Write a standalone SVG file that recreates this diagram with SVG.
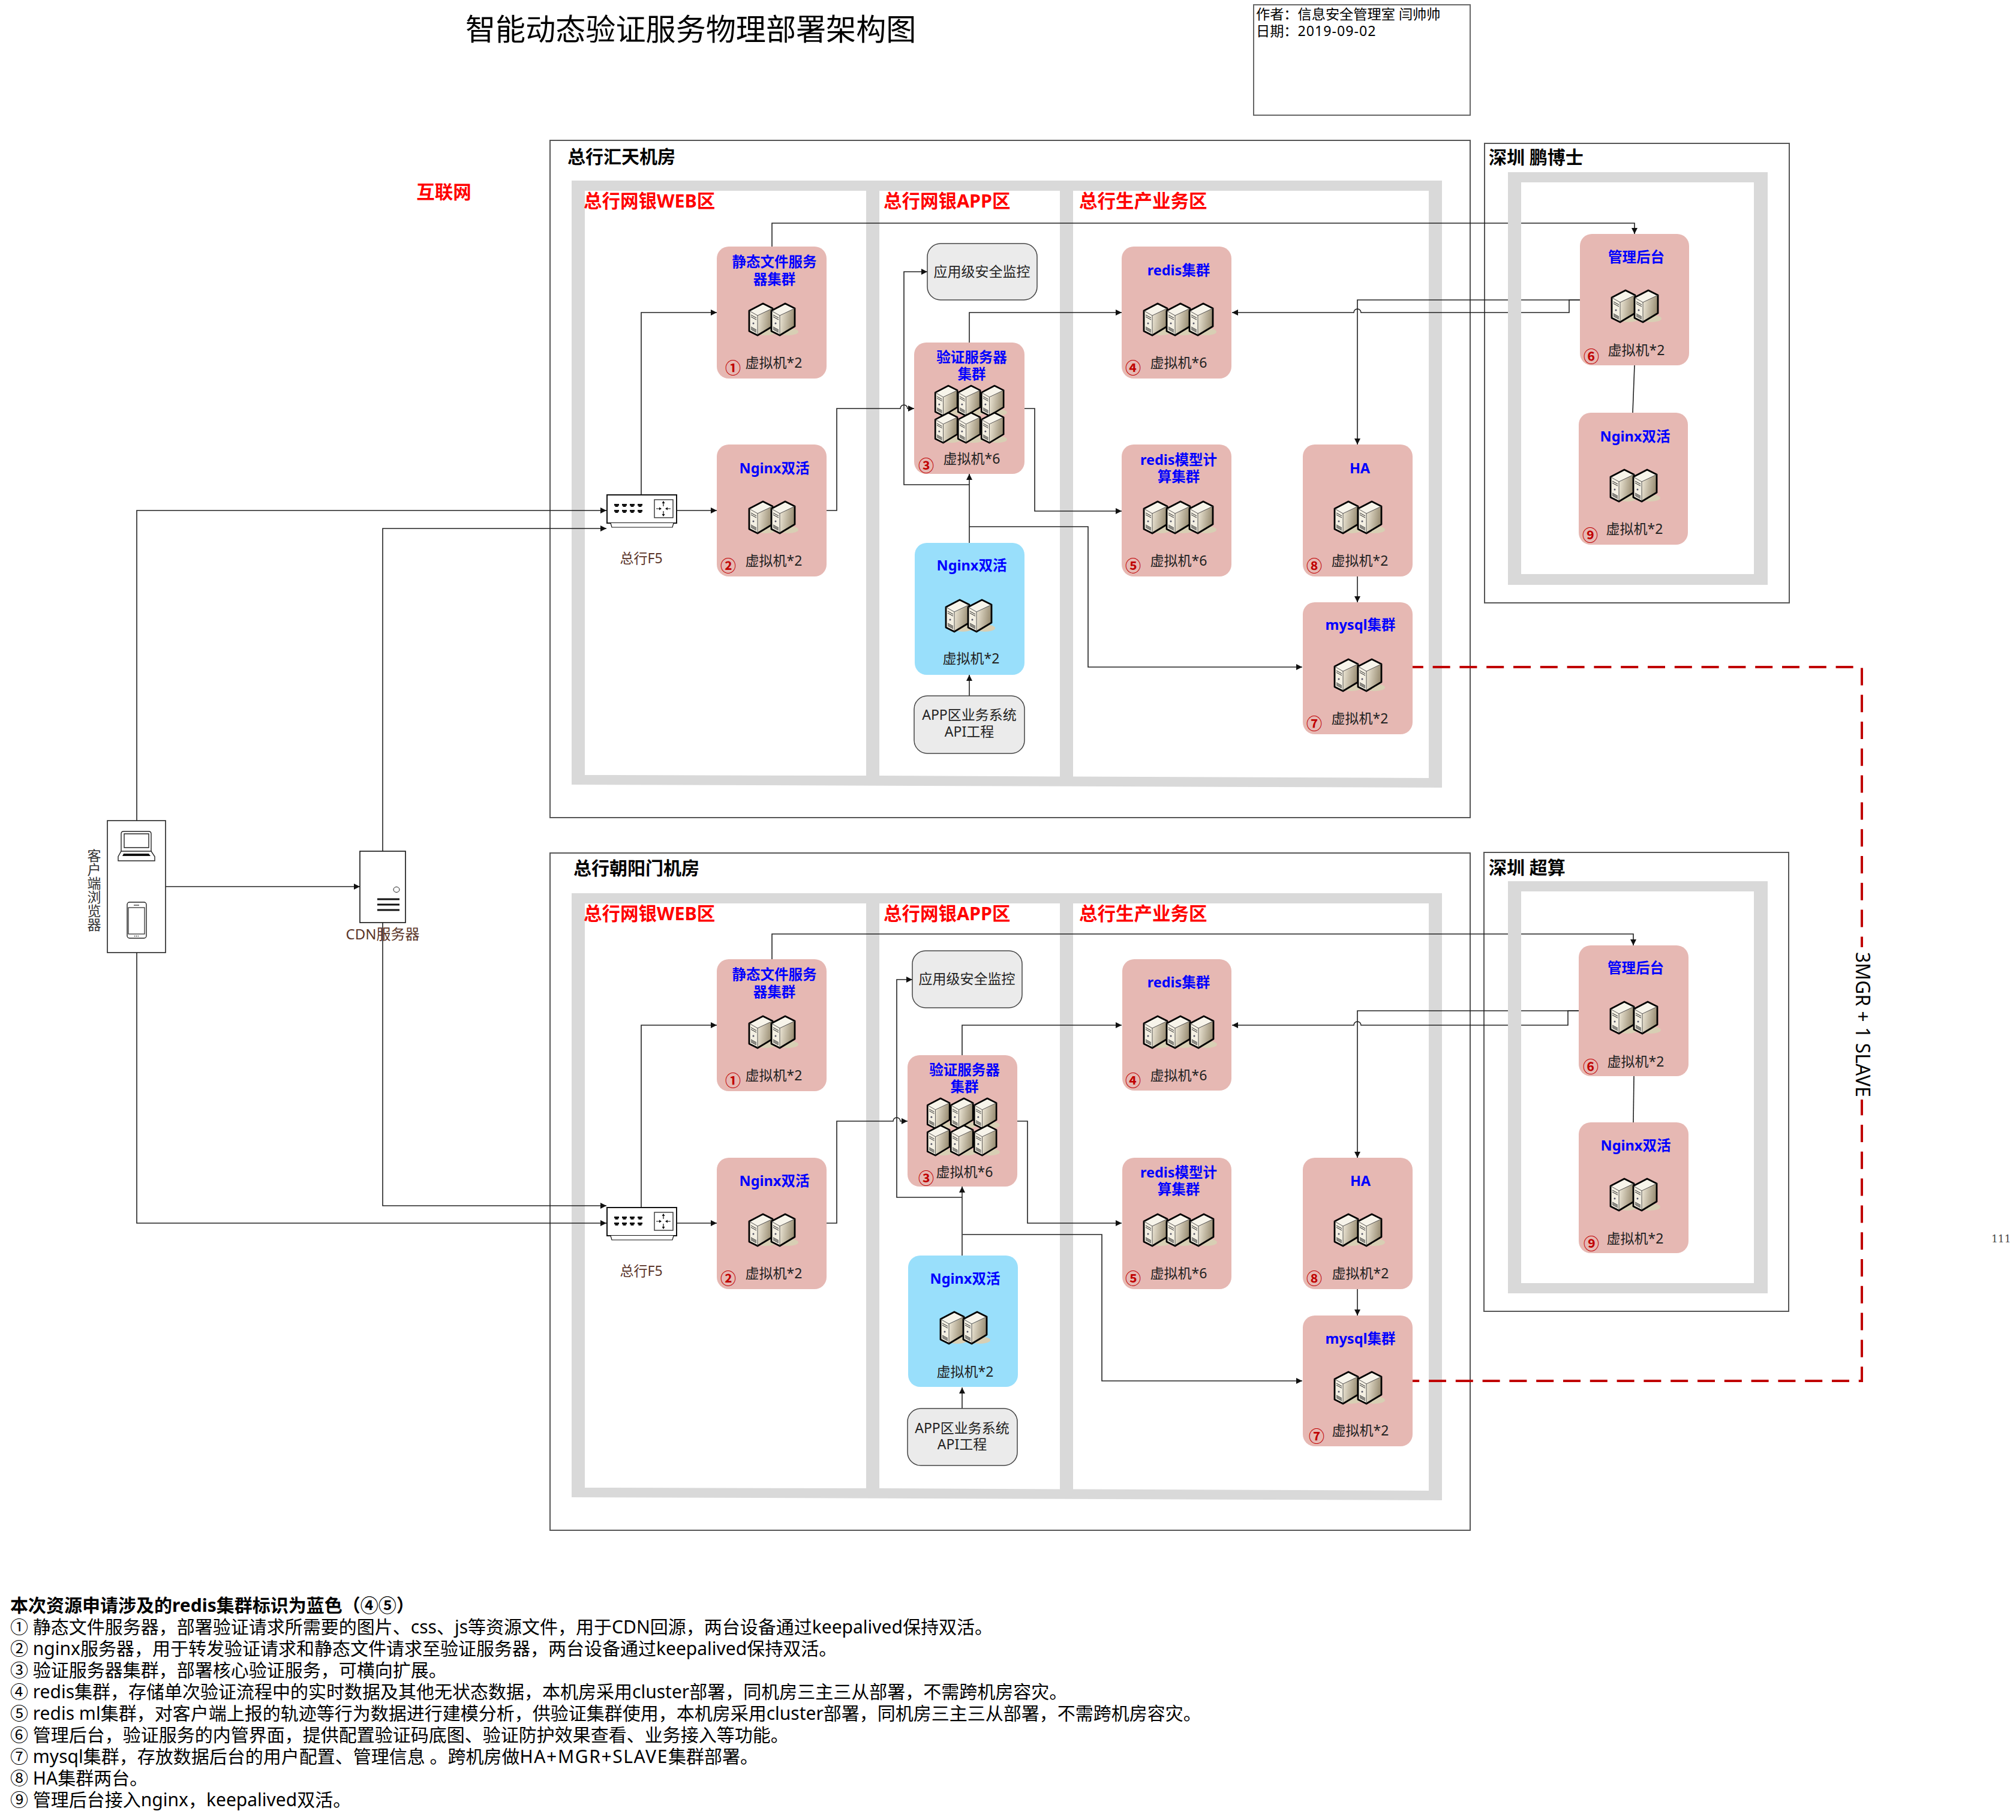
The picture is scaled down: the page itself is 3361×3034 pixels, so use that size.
<svg xmlns="http://www.w3.org/2000/svg" width="3361" height="3034" viewBox="0 0 3361 3034" lang="zh-CN">
<style>
text{font-family:"Noto Sans","Noto Sans CJK SC",sans-serif;fill:#222}
.room{fill:#fff;stroke:#555;stroke-width:2}
.frame{fill:#d9d9d9;fill-rule:evenodd}
.node{fill:#e6b8b3}
.blue{fill:#99dffb}
.grey{fill:#ebebeb;stroke:#444;stroke-width:1.5}
.ttl{font-size:23.5px;font-weight:700;fill:#0000ff;text-anchor:middle}
.vm{font-size:23px;text-anchor:middle}
.num{font-size:26px;fill:#c00000;font-weight:700;text-anchor:middle;font-family:"Noto Sans CJK SC",sans-serif}
.room-t{font-size:30px;font-weight:700;fill:#000}
.zone{font-size:30.5px;font-weight:700;fill:#ff0000}
.lab{font-size:23px;text-anchor:middle}
.brown{font-size:23px;text-anchor:middle;fill:#5a3428}
.leg{font-size:30px;fill:#000}
.c{fill:none;stroke:#222;stroke-width:1.6}
.ca{fill:none;stroke:#222;stroke-width:1.6;marker-end:url(#a)}
.red{fill:none;stroke:#c00000;stroke-width:4;stroke-dasharray:29 15.8;stroke-dashoffset:10.2}
</style>
<defs>
<marker id="a" viewBox="0 0 10 10" refX="10" refY="5" markerWidth="11" markerHeight="10" markerUnits="userSpaceOnUse" orient="auto"><path d="M0 0L10 5L0 10z" fill="#111"/></marker>
<linearGradient id="sg" x1="0" y1="0" x2="1" y2="0.2"><stop offset="0" stop-color="#efe9d9"/><stop offset="1" stop-color="#9a8e74"/></linearGradient>
<symbol id="srv" viewBox="0 0 46 56" overflow="visible">
<ellipse cx="28" cy="47" rx="17" ry="6" fill="#d8cfb4"/>
<path d="M14 20L39 8V38L14 53z" fill="url(#sg)"/>
<path d="M0 12L14 20V53L0 46z" fill="#f3efe2"/>
<path d="M0 12L23 0L39 8L14 20z" fill="#f7f4ea"/>
<path d="M23 0L39 8V38L14 53L0 46V12z" fill="none" stroke="#000" stroke-width="2.8" stroke-linejoin="round"/>
<path d="M0 12L14 20L39 8M14 20V53" fill="none" stroke="#444" stroke-width="0.9"/>
<path d="M3 19L12 24M3 22L12 27M3 39L12 44M3 41L12 46M3 43L12 48" stroke="#222" stroke-width="1" fill="none"/>
<circle cx="7" cy="33" r="1.5" fill="#556" />
</symbol>
<symbol id="f5" viewBox="0 0 118 56" overflow="visible">
<rect x="1" y="1" width="116" height="47" fill="#fff" stroke="#111" stroke-width="2"/>
<path d="M7 48L9 55H110L112 48" fill="#fff" stroke="#111" stroke-width="1.2"/>
<g fill="#111"><path d="M13 16h8v3h-1.5v2h-5v-2H13zM13 26h8v3h-1.5v2h-5v-2H13zM26 16h8v3h-1.5v2h-5v-2H26zM26 26h8v3h-1.5v2h-5v-2H26zM39 16h8v3h-1.5v2h-5v-2H39zM39 26h8v3h-1.5v2h-5v-2H39zM52 16h8v3h-1.5v2h-5v-2H52zM52 26h8v3h-1.5v2h-5v-2H52z"/></g>
<rect x="80" y="9" width="31" height="30" fill="#fff" stroke="#333" stroke-width="1.4"/>
<path d="M95 12v8M95 28v8M83 24h8M99 24h8" stroke="#111" stroke-width="1.2"/>
<path d="M95 11l-2.5 4h5zM95 37l-2.5-4h5zM92 24l-4-2.5v5zM98 24l4-2.5v5z" fill="#111"/>
</symbol>
</defs>

<g id="room-huitian"><rect class="room" x="917" y="234" width="1534" height="1129"/>
<path class="frame" d="M953 301H2404V1313L953 1308zM975 318V1292L1444 1293V318zM1466 318V1293L1767 1294.500V318zM1789 318V1294.500L2382 1297V318z"/>
<text class="room-t" x="946" y="272">总行汇天机房</text>
<text class="zone" x="973" y="346">总行网银WEB区</text><text class="zone" x="1473" y="346">总行网银APP区</text><text class="zone" x="1799" y="346">总行生产业务区</text></g>
<g id="room-chaoyang"><rect class="room" x="917" y="1422" width="1534" height="1129"/>
<path class="frame" d="M953 1489H2404V2501L953 2496zM975 1506V2480L1444 2481V1506zM1466 1506V2481L1767 2482.500V1506zM1789 1506V2482.500L2382 2485V1506z"/>
<text class="room-t" x="956" y="1458">总行朝阳门机房</text>
<text class="zone" x="973" y="1534">总行网银WEB区</text><text class="zone" x="1473" y="1534">总行网银APP区</text><text class="zone" x="1799" y="1534">总行生产业务区</text></g>
<rect class="room" x="2475" y="239" width="508" height="766" style="fill:#fff"/>
<rect class="room" x="2474" y="1421" width="508" height="765" style="fill:#fff"/>

<g id="connectors">
<path class="ca" d="M228 1368V851H1011"/>
<path class="ca" d="M638 1419V881H1011"/>
<path class="ca" d="M276 1478H600"/>
<path class="ca" d="M228 1588V2039H1011"/>
<path class="ca" d="M638 1538V2010H1011"/>
<path class="ca" d="M1069 824V521H1195"/>
<path class="ca" d="M1128 851H1195"/>
<path class="ca" d="M1378 851H1395V681H1501a6 6 0 0 1 12 0H1524"/>
<path class="ca" d="M1616 905V790"/>
<path class="ca" d="M1616 808H1507V453H1546"/>
<path class="ca" d="M1616 878H1814V1112H2171"/>
<path class="ca" d="M1616 571V521H1870"/>
<path class="ca" d="M1708 681H1725V852H1870"/>
<path class="ca" d="M1616 1160V1125"/>
<path class="ca" d="M1287 411V372H2725V390"/>
<path class="ca" d="M2634 500H2263V741"/>
<path class="ca" d="M2634 500H2616V521H2269a6 6 0 0 0 -12 0H2054"/>
<path class="ca" d="M2263 961V1004"/>
<path class="c" d="M2725 609L2722 688"/>
<path class="ca" d="M1069 2012V1709H1195"/>
<path class="ca" d="M1128 2039H1195"/>
<path class="ca" d="M1378 2039H1395V1869H1489a6 6 0 0 1 12 0H1513"/>
<path class="ca" d="M1604 2093V1978"/>
<path class="ca" d="M1604 1996H1495V1633H1521"/>
<path class="ca" d="M1605 2058H1837V2302H2171"/>
<path class="ca" d="M1604 1759V1709H1870"/>
<path class="ca" d="M1696 1869H1713V2039H1870"/>
<path class="ca" d="M1604 2348V2313"/>
<path class="ca" d="M1287 1599V1557H2723V1576"/>
<path class="ca" d="M2632 1685H2263V1930"/>
<path class="ca" d="M2632 1685H2614V1709H2269a6 6 0 0 0 -12 0H2054"/>
<path class="ca" d="M2263 2149V2193"/>
<path class="c" d="M2724 1794L2723 1871"/>
<path class="red" d="M2354 1112H3104V2302H2354"/>
</g>

<g id="room-pengboshi"><path class="frame" d="M2514 287H2947V975H2514zM2536 304V957H2924V304z"/><text class="room-t" x="2482" y="273">深圳 鹏博士</text></g>
<g id="room-chaosuan"><path class="frame" d="M2514 1469H2947V2156H2514zM2536 1486V2139H2924V1486z"/><text class="room-t" x="2482" y="1457">深圳 超算</text></g>

<g id="title"><text x="776" y="67" style="font-size:50.100px;fill:#000">智能动态验证服务物理部署架构图</text></g>
<g id="author"><rect x="2090" y="8" width="361" height="184" fill="#fff" stroke="#666" stroke-width="2"/>
<text x="2094" y="32" style="font-size:23.200px;fill:#000">作者：信息安全管理室 闫帅帅</text><text x="2094" y="60" style="font-size:23.200px;fill:#000">日期：<tspan letter-spacing="1">2019-09-02</tspan></text></g>
<g id="internet"><text x="740" y="331" class="zone" text-anchor="middle">互联网</text></g>

<g id="client"><rect x="179" y="1368" width="97" height="220" fill="#fff" stroke="#222" stroke-width="1.6"/>
<path d="M202 1419V1390q0-4 4-4h42q4 0 4 4v29M207 1390h41v23h-41z" fill="#fff" stroke="#222" stroke-width="1.4"/>
<path d="M202 1419H252L258 1428V1435H197V1428z" fill="#fff" stroke="#222" stroke-width="1.4"/><path d="M206 1423H248L251 1427H204z" fill="#111"/>
<rect x="212" y="1504" width="32" height="60" rx="4" fill="#fff" stroke="#222" stroke-width="1.4"/><rect x="214" y="1513" width="27" height="44" fill="#fff" stroke="#222" stroke-width="1.2"/><path d="M223 1509h9" stroke="#222" stroke-width="1.2"/><path d="M224 1560.500h7" stroke="#222" stroke-width="1.5" stroke-dasharray="1.500 1.500"/>
<text x="156" y="1415" style="font-size:23px;writing-mode:vertical-rl;fill:#333">客户端浏览器</text></g>
<g id="cdn"><rect x="600" y="1419" width="76" height="119" fill="#fff" stroke="#111" stroke-width="1.6"/><ellipse cx="661" cy="1483" rx="5" ry="4.500" fill="#fff" stroke="#222"/><path d="M629 1499h37M629 1508h37M629 1517h37" stroke="#111" stroke-width="3"/><text class="brown" x="638" y="1566" style="font-size:24px">CDN服务器</text></g>

<g id="f5-a"><use href="#f5" x="1011" y="824" width="118" height="56"/><text class="brown" x="1069" y="939">总行F5</text></g>
<g id="f5-b"><use href="#f5" x="1011" y="2012" width="118" height="56"/><text class="brown" x="1069" y="2127">总行F5</text></g>

<g id="a-static"><rect class="node" x="1195" y="411" width="183" height="220" rx="20"/><text class="ttl" x="1291" y="445">静态文件服务</text><text class="ttl" x="1291" y="474">器集群</text><use href="#srv" x="1249" y="506" width="46" height="56"/><use href="#srv" x="1286" y="506" width="46" height="56"/><text class="vm" x="1290" y="613">虚拟机*2</text><text class="num" x="1222" y="623">①</text></g>
<g id="a-nginx"><rect class="node" x="1195" y="741" width="183" height="220" rx="20"/><text class="ttl" x="1291" y="789">Nginx双活</text><use href="#srv" x="1249" y="836" width="46" height="56"/><use href="#srv" x="1286" y="836" width="46" height="56"/><text class="vm" x="1290" y="943">虚拟机*2</text><text class="num" x="1214" y="953">②</text></g>
<g id="a-monitor"><rect class="grey" x="1546" y="406" width="183" height="94" rx="22"/><text class="lab" x="1637" y="461">应用级安全监控</text></g>
<g id="a-auth"><rect class="node" x="1524" y="571" width="184" height="219" rx="20"/><text class="ttl" x="1620" y="604">验证服务器</text><text class="ttl" x="1620" y="632">集群</text><use href="#srv" x="1559" y="643" width="44" height="53"/><use href="#srv" x="1597" y="643" width="44" height="53"/><use href="#srv" x="1636" y="643" width="44" height="53"/><use href="#srv" x="1559" y="688" width="44" height="53"/><use href="#srv" x="1597" y="688" width="44" height="53"/><use href="#srv" x="1636" y="688" width="44" height="53"/><text class="vm" x="1620" y="773">虚拟机*6</text><text class="num" x="1544" y="786">③</text></g>
<g id="a-app-nginx"><rect class="blue" x="1525" y="905" width="183" height="220" rx="20"/><text class="ttl" x="1620" y="951">Nginx双活</text><use href="#srv" x="1577" y="1000" width="46" height="56"/><use href="#srv" x="1614" y="1000" width="46" height="56"/><text class="vm" x="1619" y="1106">虚拟机*2</text></g>
<g id="a-app"><rect class="grey" x="1524" y="1160" width="184" height="96" rx="22"/><text class="lab" x="1616" y="1200">APP区业务系统</text><text class="lab" x="1616" y="1228">API工程</text></g>
<g id="a-redis"><rect class="node" x="1870" y="411" width="183" height="220" rx="20"/><text class="ttl" x="1965" y="459">redis集群</text><use href="#srv" x="1907" y="506" width="46" height="56"/><use href="#srv" x="1945" y="506" width="46" height="56"/><use href="#srv" x="1983" y="506" width="46" height="56"/><text class="vm" x="1965" y="613">虚拟机*6</text><text class="num" x="1889" y="623">④</text></g>
<g id="a-redisml"><rect class="node" x="1870" y="741" width="183" height="220" rx="20"/><text class="ttl" x="1965" y="775">redis模型计</text><text class="ttl" x="1965" y="803">算集群</text><use href="#srv" x="1907" y="836" width="46" height="56"/><use href="#srv" x="1945" y="836" width="46" height="56"/><use href="#srv" x="1983" y="836" width="46" height="56"/><text class="vm" x="1965" y="943">虚拟机*6</text><text class="num" x="1889" y="953">⑤</text></g>
<g id="a-ha"><rect class="node" x="2172" y="741" width="183" height="220" rx="20"/><text class="ttl" x="2267" y="789">HA</text><use href="#srv" x="2225" y="836" width="46" height="56"/><use href="#srv" x="2264" y="836" width="46" height="56"/><text class="vm" x="2267" y="943">虚拟机*2</text><text class="num" x="2191" y="953">⑧</text></g>
<g id="a-mysql"><rect class="node" x="2172" y="1004" width="183" height="220" rx="20"/><text class="ttl" x="2268" y="1050">mysql集群</text><use href="#srv" x="2225" y="1099" width="46" height="56"/><use href="#srv" x="2264" y="1099" width="46" height="56"/><text class="vm" x="2267" y="1206">虚拟机*2</text><text class="num" x="2191" y="1216">⑦</text></g>
<g id="a-admin"><rect class="node" x="2634" y="390" width="182" height="219" rx="20"/><text class="ttl" x="2728" y="437">管理后台</text><use href="#srv" x="2687" y="484" width="46" height="56"/><use href="#srv" x="2725" y="484" width="46" height="56"/><text class="vm" x="2728" y="592">虚拟机*2</text><text class="num" x="2653" y="604">⑥</text></g>
<g id="a-admin-nginx"><rect class="node" x="2632" y="688" width="182" height="220" rx="20"/><text class="ttl" x="2726" y="736">Nginx双活</text><use href="#srv" x="2685" y="783" width="46" height="56"/><use href="#srv" x="2723" y="783" width="46" height="56"/><text class="vm" x="2725" y="890">虚拟机*2</text><text class="num" x="2651" y="902">⑨</text></g>

<g id="b-static"><rect class="node" x="1195" y="1599" width="183" height="220" rx="20"/><text class="ttl" x="1291" y="1633">静态文件服务</text><text class="ttl" x="1291" y="1662">器集群</text><use href="#srv" x="1249" y="1694" width="46" height="56"/><use href="#srv" x="1286" y="1694" width="46" height="56"/><text class="vm" x="1290" y="1801">虚拟机*2</text><text class="num" x="1222" y="1811">①</text></g>
<g id="b-nginx"><rect class="node" x="1195" y="1930" width="183" height="219" rx="20"/><text class="ttl" x="1291" y="1977">Nginx双活</text><use href="#srv" x="1249" y="2024" width="46" height="56"/><use href="#srv" x="1286" y="2024" width="46" height="56"/><text class="vm" x="1290" y="2131">虚拟机*2</text><text class="num" x="1214" y="2141">②</text></g>
<g id="b-monitor"><rect class="grey" x="1521" y="1585" width="183" height="95" rx="22"/><text class="lab" x="1612" y="1640">应用级安全监控</text></g>
<g id="b-auth"><rect class="node" x="1513" y="1759" width="183" height="219" rx="20"/><text class="ttl" x="1608" y="1792">验证服务器</text><text class="ttl" x="1608" y="1820">集群</text><use href="#srv" x="1546" y="1831" width="44" height="53"/><use href="#srv" x="1585" y="1831" width="44" height="53"/><use href="#srv" x="1624" y="1831" width="44" height="53"/><use href="#srv" x="1546" y="1876" width="44" height="53"/><use href="#srv" x="1585" y="1876" width="44" height="53"/><use href="#srv" x="1624" y="1876" width="44" height="53"/><text class="vm" x="1608" y="1962">虚拟机*6</text><text class="num" x="1544" y="1974">③</text></g>
<g id="b-app-nginx"><rect class="blue" x="1514" y="2093" width="183" height="219" rx="20"/><text class="ttl" x="1609" y="2140">Nginx双活</text><use href="#srv" x="1568" y="2187" width="46" height="56"/><use href="#srv" x="1606" y="2187" width="46" height="56"/><text class="vm" x="1609" y="2295">虚拟机*2</text></g>
<g id="b-app"><rect class="grey" x="1513" y="2348" width="183" height="95" rx="22"/><text class="lab" x="1604" y="2389">APP区业务系统</text><text class="lab" x="1604" y="2416">API工程</text></g>
<g id="b-redis"><rect class="node" x="1871" y="1599" width="182" height="219" rx="20"/><text class="ttl" x="1965" y="1646">redis集群</text><use href="#srv" x="1907" y="1694" width="46" height="56"/><use href="#srv" x="1945" y="1694" width="46" height="56"/><use href="#srv" x="1984" y="1694" width="46" height="56"/><text class="vm" x="1965" y="1801">虚拟机*6</text><text class="num" x="1889" y="1811">④</text></g>
<g id="b-redisml"><rect class="node" x="1871" y="1930" width="182" height="219" rx="20"/><text class="ttl" x="1965" y="1963">redis模型计</text><text class="ttl" x="1965" y="1991">算集群</text><use href="#srv" x="1907" y="2024" width="46" height="56"/><use href="#srv" x="1945" y="2024" width="46" height="56"/><use href="#srv" x="1984" y="2024" width="46" height="56"/><text class="vm" x="1965" y="2131">虚拟机*6</text><text class="num" x="1889" y="2141">⑤</text></g>
<g id="b-ha"><rect class="node" x="2172" y="1930" width="183" height="219" rx="20"/><text class="ttl" x="2268" y="1977">HA</text><use href="#srv" x="2225" y="2024" width="46" height="56"/><use href="#srv" x="2264" y="2024" width="46" height="56"/><text class="vm" x="2268" y="2131">虚拟机*2</text><text class="num" x="2191" y="2141">⑧</text></g>
<g id="b-mysql"><rect class="node" x="2172" y="2193" width="183" height="218" rx="20"/><text class="ttl" x="2268" y="2240">mysql集群</text><use href="#srv" x="2225" y="2287" width="46" height="56"/><use href="#srv" x="2264" y="2287" width="46" height="56"/><text class="vm" x="2268" y="2393">虚拟机*2</text><text class="num" x="2195" y="2404">⑦</text></g>
<g id="b-admin"><rect class="node" x="2632" y="1576" width="183" height="218" rx="20"/><text class="ttl" x="2727" y="1622">管理后台</text><use href="#srv" x="2685" y="1670" width="46" height="56"/><use href="#srv" x="2724" y="1670" width="46" height="56"/><text class="vm" x="2727" y="1778">虚拟机*2</text><text class="num" x="2652" y="1788">⑥</text></g>
<g id="b-admin-nginx"><rect class="node" x="2632" y="1871" width="183" height="218" rx="20"/><text class="ttl" x="2727" y="1918">Nginx双活</text><use href="#srv" x="2685" y="1965" width="46" height="56"/><use href="#srv" x="2723" y="1965" width="46" height="56"/><text class="vm" x="2726" y="2073">虚拟机*2</text><text class="num" x="2653" y="2083">⑨</text></g>

<g id="repl-label"><rect x="3088" y="1579" width="36" height="254" fill="#fff"/><text transform="translate(3094 1587) rotate(90)" style="font-size:33px;fill:#000" textLength="242" lengthAdjust="spacingAndGlyphs">3MGR + 1 SLAVE</text></g>
<g id="misc"><text x="3320" y="2071" style="font-size:17px;font-family:'DejaVu Serif',serif;fill:#444">111</text></g>

<g id="legend">
<text class="leg" x="17" y="2687" style="font-weight:700">本次资源申请涉及的redis集群标识为蓝色（④⑤）</text>
<text class="leg" x="17" y="2723">① 静态文件服务器，部署验证请求所需要的图片、css、js等资源文件，用于CDN回源，两台设备通过keepalived保持双活。</text>
<text class="leg" x="17" y="2759">② nginx服务器，用于转发验证请求和静态文件请求至验证服务器，两台设备通过keepalived保持双活。</text>
<text class="leg" x="17" y="2795">③ 验证服务器集群，部署核心验证服务，可横向扩展。</text>
<text class="leg" x="17" y="2831">④ redis集群，存储单次验证流程中的实时数据及其他无状态数据，本机房采用cluster部署，同机房三主三从部署，不需跨机房容灾。</text>
<text class="leg" x="17" y="2867">⑤ redis ml集群，对客户端上报的轨迹等行为数据进行建模分析，供验证集群使用，本机房采用cluster部署，同机房三主三从部署，不需跨机房容灾。</text>
<text class="leg" x="17" y="2903">⑥ 管理后台，验证服务的内管界面，提供配置验证码底图、验证防护效果查看、业务接入等功能。</text>
<text class="leg" x="17" y="2939">⑦ mysql集群，存放数据后台的用户配置、管理信息 。跨机房做<tspan letter-spacing="1.600">HA+MGR+SLAVE</tspan>集群部署。</text>
<text class="leg" x="17" y="2975">⑧ HA集群两台。</text>
<text class="leg" x="17" y="3011">⑨ 管理后台接入nginx，keepalived双活。</text>
</g>
</svg>
